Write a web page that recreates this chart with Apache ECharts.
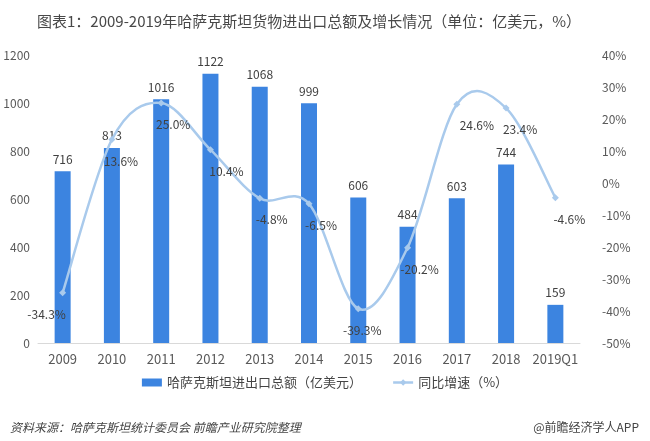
<!DOCTYPE html>
<html><head><meta charset="utf-8">
<script src="https://cdn.jsdelivr.net/npm/echarts@6/dist/echarts.min.js"></script>
<style>html,body{margin:0;padding:0;background:#fff}#c{width:650px;height:441px}</style>
</head><body><div id="c"></div>
<script>
const categories = ['2009','2010','2011','2012','2013','2014','2015','2016','2017','2018','2019Q1'];
const tradeTotal = [716, 813, 1016, 1122, 1068, 999, 606, 484, 603, 744, 159];
const growthRate = [-34.3, 13.6, 25.0, 10.4, -4.8, -6.5, -39.3, -20.2, 24.6, 23.4, -4.6];
const labelOffsets = [[-16,0],[9,0],[12,0],[16,0],[12,0],[12,0],[4,0],[12,0],[20,0],[14,0],[14,0]];

const lineColor = '#A9CAEC';
const chart = echarts.init(document.getElementById('c'));
const font = '"Microsoft YaHei","Noto Sans CJK SC",sans-serif';

// Excel-like Catmull-Rom smoothing drawn through the axis scales
function renderCurve(params, api) {
  if (params.dataIndex !== 0) return null;
  const pts = growthRate.map((v, i) => api.coord([i, v]));
  const n = pts.length;
  let d = 'M' + pts[0][0] + ',' + pts[0][1];
  for (let i = 0; i < n - 1; i++) {
    const p0 = pts[Math.max(0, i - 1)], p1 = pts[i], p2 = pts[i + 1], p3 = pts[Math.min(n - 1, i + 2)];
    const c1 = [p1[0] + (p2[0] - p0[0]) / 6, p1[1] + (p2[1] - p0[1]) / 6];
    const c2 = [p2[0] - (p3[0] - p1[0]) / 6, p2[1] - (p3[1] - p1[1]) / 6];
    d += ' C' + c1[0] + ',' + c1[1] + ' ' + c2[0] + ',' + c2[1] + ' ' + p2[0] + ',' + p2[1];
  }
  return {type: 'path', shape: {pathData: d}, style: {fill: null, stroke: lineColor, lineWidth: 2.5}};
}

chart.setOption({
  animation: false,
  textStyle: {fontFamily: font},
  title: [
    {text: '图表1：2009-2019年哈萨克斯坦货物进出口总额及增长情况（单位：亿美元，%）', left: 32, top: 9,
     textStyle: {fontSize: 15, fontWeight: 'normal', color: '#484848', fontFamily: font}},
    {text: '资料来源：哈萨克斯坦统计委员会 前瞻产业研究院整理', left: 5, top: 416,
     textStyle: {fontSize: 12, fontWeight: 'normal', fontStyle: 'italic', color: '#444', fontFamily: font}},
    {text: '@前瞻经济学人APP', right: 6, top: 416,
     textStyle: {fontSize: 12, fontWeight: 'normal', color: '#444', fontFamily: font}}
  ],
  legend: {
    bottom: 47, left: 'center', itemGap: 30, itemWidth: 20, itemHeight: 8,
    textStyle: {fontSize: 13, color: '#444'},
    data: [
      {name: '哈萨克斯坦进出口总额（亿美元）', icon: 'rect'},
      {name: '同比增速（%）', lineStyle: {color: lineColor, width: 2.5, opacity: 1}}
    ]
  },
  grid: {left: 38, right: 70, top: 55, bottom: 98},
  xAxis: {
    type: 'category', data: categories,
    axisLine: {lineStyle: {color: '#d9d9d9'}}, axisTick: {show: false},
    axisLabel: {color: '#595959', fontSize: 13, margin: 10, interval: 0}
  },
  yAxis: [
    {type: 'value', min: 0, max: 1200, interval: 200,
     axisLine: {show: false}, axisTick: {show: false},
     axisLabel: {color: '#595959', fontSize: 12, margin: 8, formatter: v => String(v)},
     splitLine: {show: false}},
    {type: 'value', min: -50, max: 40, interval: 10,
     axisLine: {show: false}, axisTick: {show: false},
     axisLabel: {color: '#595959', fontSize: 12, formatter: '{value}%', margin: 22},
     splitLine: {show: false}}
  ],
  series: [
    {name: '哈萨克斯坦进出口总额（亿美元）', type: 'bar', data: tradeTotal, barWidth: 16,
     itemStyle: {color: '#3C84E0'},
     label: {show: true, position: 'top', color: '#404040', fontSize: 12, distance: 6}},
    {name: 'curve', type: 'custom', yAxisIndex: 1, renderItem: renderCurve,
     data: growthRate.map((v, i) => [i, v]), z: 3, silent: true},
    {name: '同比增速（%）', type: 'line', yAxisIndex: 1, z: 4,
     data: growthRate.map((v, i) => ({value: v, label: {offset: labelOffsets[i]}})),
     symbol: 'diamond', symbolSize: 7,
     lineStyle: {color: lineColor, width: 2.5, opacity: 0},
     itemStyle: {color: lineColor},
     label: {show: true, position: 'bottom', distance: 12, color: '#404040', fontSize: 12,
             formatter: p => p.value.toFixed(1) + '%'}}
  ]
});
</script></body></html>
